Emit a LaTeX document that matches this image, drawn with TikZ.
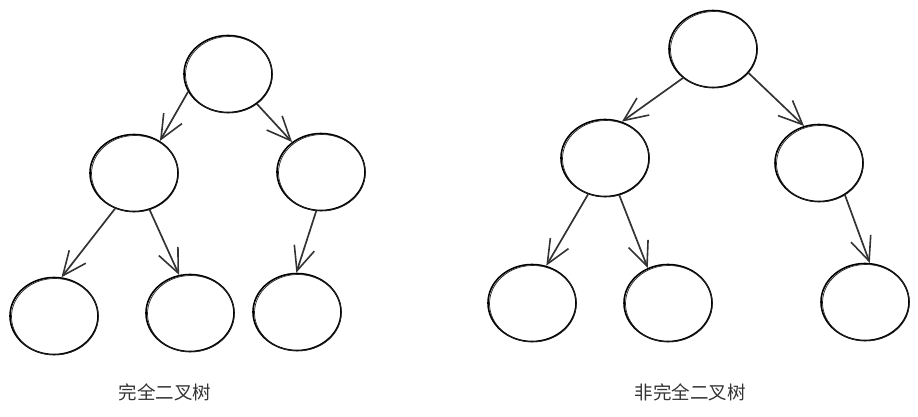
\documentclass[tikz,border=0pt]{standalone}
\usepackage{fontspec}
\newfontfamily\cjk{Noto Sans CJK SC}
\usetikzlibrary{shapes.geometric,arrows.meta}
\begin{document}
\begin{tikzpicture}[x=1pt,y=-1pt,
  treenode/.style={ellipse,draw=black,line width=1.6pt,minimum width=88pt,minimum height=77pt,inner sep=0pt},
  retrace/.style={draw=black!85,line width=0.7pt},
  link/.style={draw=black!80,line width=1.7pt,-{Straight Barb[length=24pt,width=21pt,line width=1.6pt]}},
  caption/.style={font=\cjk\fontsize{18.5}{20}\selectfont,text=black!80}]
\useasboundingbox (0,0) rectangle (918,417);

% complete binary tree
\node[treenode] (LA) at (228,74) {};
\node[treenode] (LB) at (134,173) {};
\node[treenode] (LC) at (321,172) {};
\node[treenode] (LD) at (54,316) {};
\node[treenode] (LE) at (190,313) {};
\node[treenode] (LF) at (297,312) {};
\draw[link] (LA.204) -- (LB.51);
\draw[link] (LA.314) -- (LC.134);
\draw[link] (LB.242) -- (LD.79);
\draw[link] (LB.293) -- (LE.106);
\draw[link] (LC.263) -- (LF.91);
\node[caption] (capL) at (165,392) {完全二叉树};

% non-complete binary tree
\node[treenode] (RA) at (713,49) {};
\node[treenode] (RB) at (605,158) {};
\node[treenode] (RC) at (819,163) {};
\node[treenode] (RD) at (532,303) {};
\node[treenode] (RE) at (668,303) {};
\node[treenode] (RF) at (865,302) {};
\draw[link] (RA.224) -- (RB.65);
\draw[link] (RA.326) -- (RC.112);
\draw[link] (RB.245) -- (RD.69);
\draw[link] (RB.291) -- (RE.120);
\draw[link] (RC.309) -- (RF.83);
\node[caption] (capR) at (690,392) {非完全二叉树};

% second pen stroke round each circle, slightly off the first
\foreach \n in {LA,LB,LC,LD,LE,LF,RA,RB,RC,RD,RE,RF}
  \draw[retrace] ([shift={(0.9,0.7)}]\n.center) ellipse [x radius=43.4,y radius=38.2];
\end{tikzpicture}
\end{document}
